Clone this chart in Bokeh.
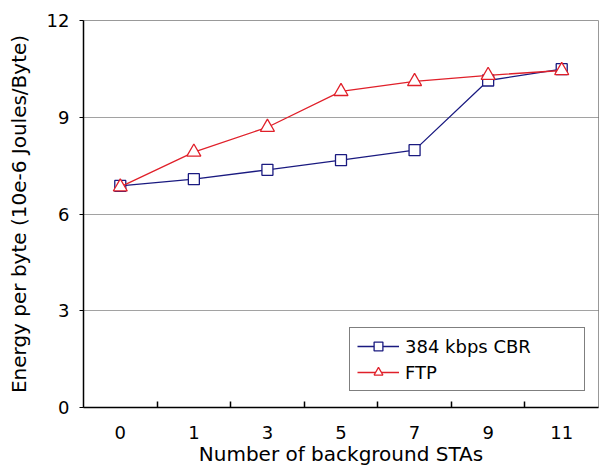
from bokeh.plotting import figure
from bokeh.models import FixedTicker, Range1d, Legend, LegendItem, ColumnDataSource
from bokeh.embed import file_html
from bokeh.resources import INLINE

categories = ["0", "1", "3", "5", "7", "9", "11"]
cbr = [6.87, 7.08, 7.37, 7.67, 7.98, 10.14, 10.49]
ftp = [6.84, 7.92, 8.69, 9.80, 10.11, 10.30, 10.45]
y_ticks = [0, 3, 6, 9, 12]

FONT = "DejaVu Sans"
xs = list(range(len(categories)))

p = figure(width=600, height=468, output_backend="svg", toolbar_location=None,
           x_range=Range1d(-0.5, len(categories) - 0.5), y_range=Range1d(0, 12),
           min_border_left=83, min_border_right=2, min_border_top=20, min_border_bottom=60)
p.background_fill_color = "white"
p.border_fill_color = "white"
p.outline_line_color = "#999999"

src = ColumnDataSource(dict(x=xs, cbr=cbr, ftp=ftp))

l1 = p.line("x", "cbr", source=src, line_color="#1a1a80", line_width=1.3)
m1 = p.scatter("x", "cbr", source=src, marker="square", size=11, fill_color="white",
               line_color="#1a1a80", line_width=1.3)
l2 = p.line("x", "ftp", source=src, line_color="#e0202a", line_width=1.3)
m2 = p.scatter("x", "ftp", source=src, marker="triangle", size=14, fill_color="white",
               line_color="#e0202a", line_width=1.3)

# x axis
p.xaxis.ticker = FixedTicker(ticks=xs, minor_ticks=[i + 0.5 for i in xs[:-1]])
p.xaxis.major_label_overrides = {i: c for i, c in enumerate(categories)}
p.xaxis.major_tick_line_color = None
p.xaxis.minor_tick_in = 6
p.xaxis.minor_tick_out = 0
p.xaxis.minor_tick_line_color = "black"
p.xaxis.minor_tick_line_width = 1.5
p.xaxis.axis_line_width = 1.5
p.xaxis.axis_label = "Number of background STAs"
p.xaxis.major_label_standoff = 12
p.xaxis.axis_label_standoff = 0

# y axis
p.yaxis.ticker = FixedTicker(ticks=y_ticks)
p.yaxis.minor_tick_line_color = None
p.yaxis.major_tick_in = 0
p.yaxis.major_tick_out = 4
p.yaxis.axis_line_width = 1.5
p.yaxis.axis_label = "Energy per byte (10e-6 Joules/Byte)"
p.yaxis.major_label_standoff = 10
p.yaxis.axis_label_standoff = 13

for ax in (p.xaxis, p.yaxis):
    ax.major_label_text_font = FONT
    ax.major_label_text_font_size = "18px"
    ax.major_label_text_color = "black"
    ax.axis_label_text_font = FONT
    ax.axis_label_text_font_size = "20px"
    ax.axis_label_text_font_style = "normal"
    ax.axis_label_text_color = "black"
    ax.axis_line_color = "black"

p.xgrid.grid_line_color = None
p.ygrid.grid_line_color = "#444444"
p.ygrid.grid_line_dash = "1 1"
p.ygrid.grid_line_width = 1

legend = Legend(items=[LegendItem(label="384 kbps CBR", renderers=[l1, m1]),
                       LegendItem(label="FTP", renderers=[l2, m2])],
                location=(266, 16))
legend.label_text_font = FONT
legend.label_text_font_size = "18px"
legend.label_text_color = "black"
legend.border_line_color = "black"
legend.border_line_width = 1.3
legend.glyph_width = 42
legend.glyph_height = 22
legend.spacing = 4
legend.padding = 7
legend.margin = 0
legend.label_standoff = 6
legend.label_width = 172
legend.background_fill_alpha = 1
p.add_layout(legend, "center")

open("out.html", "w").write(file_html(p, INLINE))
